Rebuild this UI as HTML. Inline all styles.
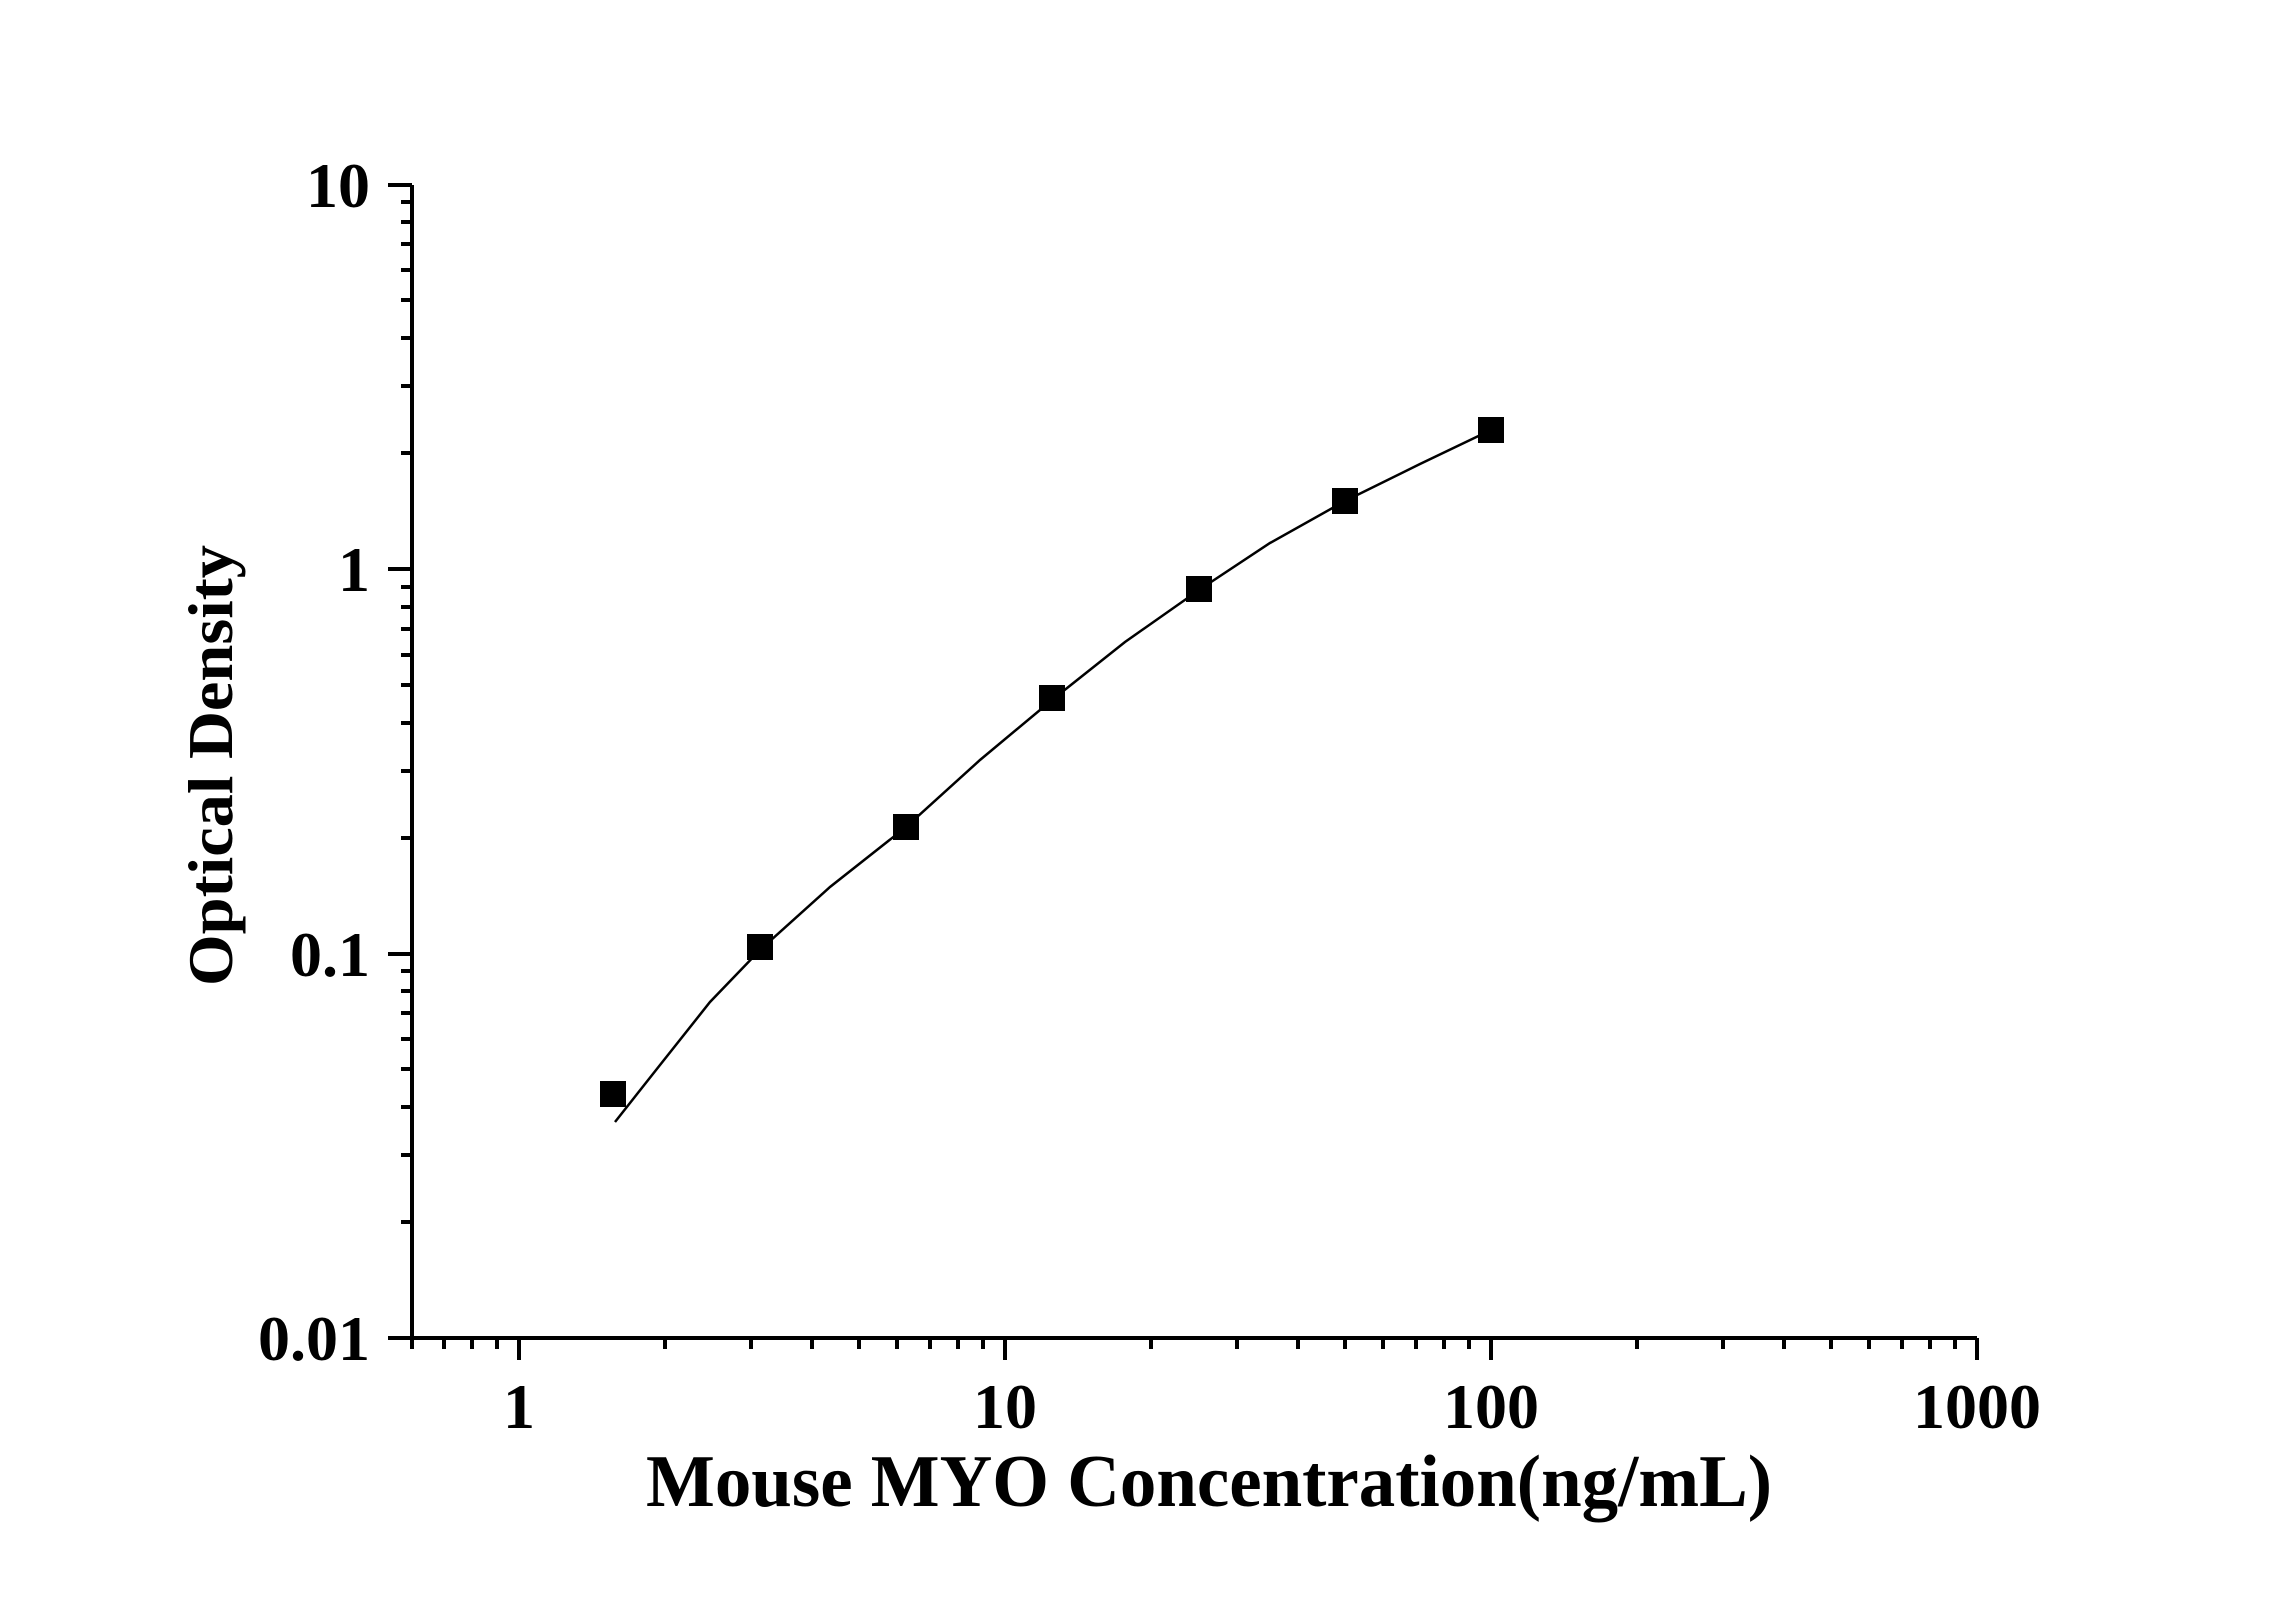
<!DOCTYPE html>
<html><head><meta charset="utf-8"><style>html,body{margin:0;padding:0;background:#fff}</style></head>
<body>
<svg width="2296" height="1604" viewBox="0 0 2296 1604" xmlns="http://www.w3.org/2000/svg" font-family="'Liberation Serif', serif" font-weight="bold">
<rect width="2296" height="1604" fill="#fff"/>
<g stroke="#000" stroke-width="4" fill="none">
<path d="M412 185 V1338 H1977"/>
<path d="M519 1338v22M1005 1338v22M1491 1338v22M1977 1338v22"/>
<path d="M412 1338v11M444 1338v11M472 1338v11M497 1338v11M665 1338v11M751 1338v11M812 1338v11M859 1338v11M897 1338v11M930 1338v11M958 1338v11M983 1338v11M1151 1338v11M1237 1338v11M1298 1338v11M1345 1338v11M1383 1338v11M1416 1338v11M1444 1338v11M1469 1338v11M1637 1338v11M1723 1338v11M1784 1338v11M1831 1338v11M1869 1338v11M1902 1338v11M1930 1338v11M1955 1338v11"/>
<path d="M412 185h-24M412 569h-24M412 954h-24M412 1338h-24"/>
<path d="M412 1222h-11M412 1155h-11M412 1107h-11M412 1069h-11M412 1039h-11M412 1013h-11M412 991h-11M412 971h-11M412 838h-11M412 771h-11M412 723h-11M412 685h-11M412 655h-11M412 629h-11M412 607h-11M412 587h-11M412 453h-11M412 386h-11M412 338h-11M412 300h-11M412 270h-11M412 244h-11M412 222h-11M412 202h-11"/>
</g>
<polyline fill="none" stroke="#000" stroke-width="2.5" points="615,1122 660,1065 710,1002 760,950 830,887 906,827 980,760 1052,700 1125,642 1199,590 1270,543 1345,501 1420,464 1491,430"/>
<g fill="#000">
<rect x="600" y="1081" width="26" height="26"/>
<rect x="747" y="934" width="26" height="26"/>
<rect x="893" y="814" width="26" height="26"/>
<rect x="1039" y="685" width="26" height="26"/>
<rect x="1186" y="576" width="26" height="26"/>
<rect x="1332" y="488" width="26" height="26"/>
<rect x="1478" y="417" width="26" height="26"/>
</g>
<g font-size="64" text-anchor="end" fill="#000">
<text x="370" y="207">10</text>
<text x="370" y="591">1</text>
<text x="370" y="976">0.1</text>
<text x="370" y="1360">0.01</text>
</g>
<g font-size="64" text-anchor="middle" fill="#000">
<text x="519" y="1428">1</text>
<text x="1005" y="1428">10</text>
<text x="1491" y="1428">100</text>
<text x="1977" y="1428">1000</text>
</g>
<text x="646" y="1506" font-size="74" textLength="1126" lengthAdjust="spacingAndGlyphs">Mouse MYO Concentration(ng/mL)</text>
<text transform="translate(232,986) rotate(-90)" font-size="64" textLength="441" lengthAdjust="spacingAndGlyphs">Optical Density</text>
</svg>
</body></html>
